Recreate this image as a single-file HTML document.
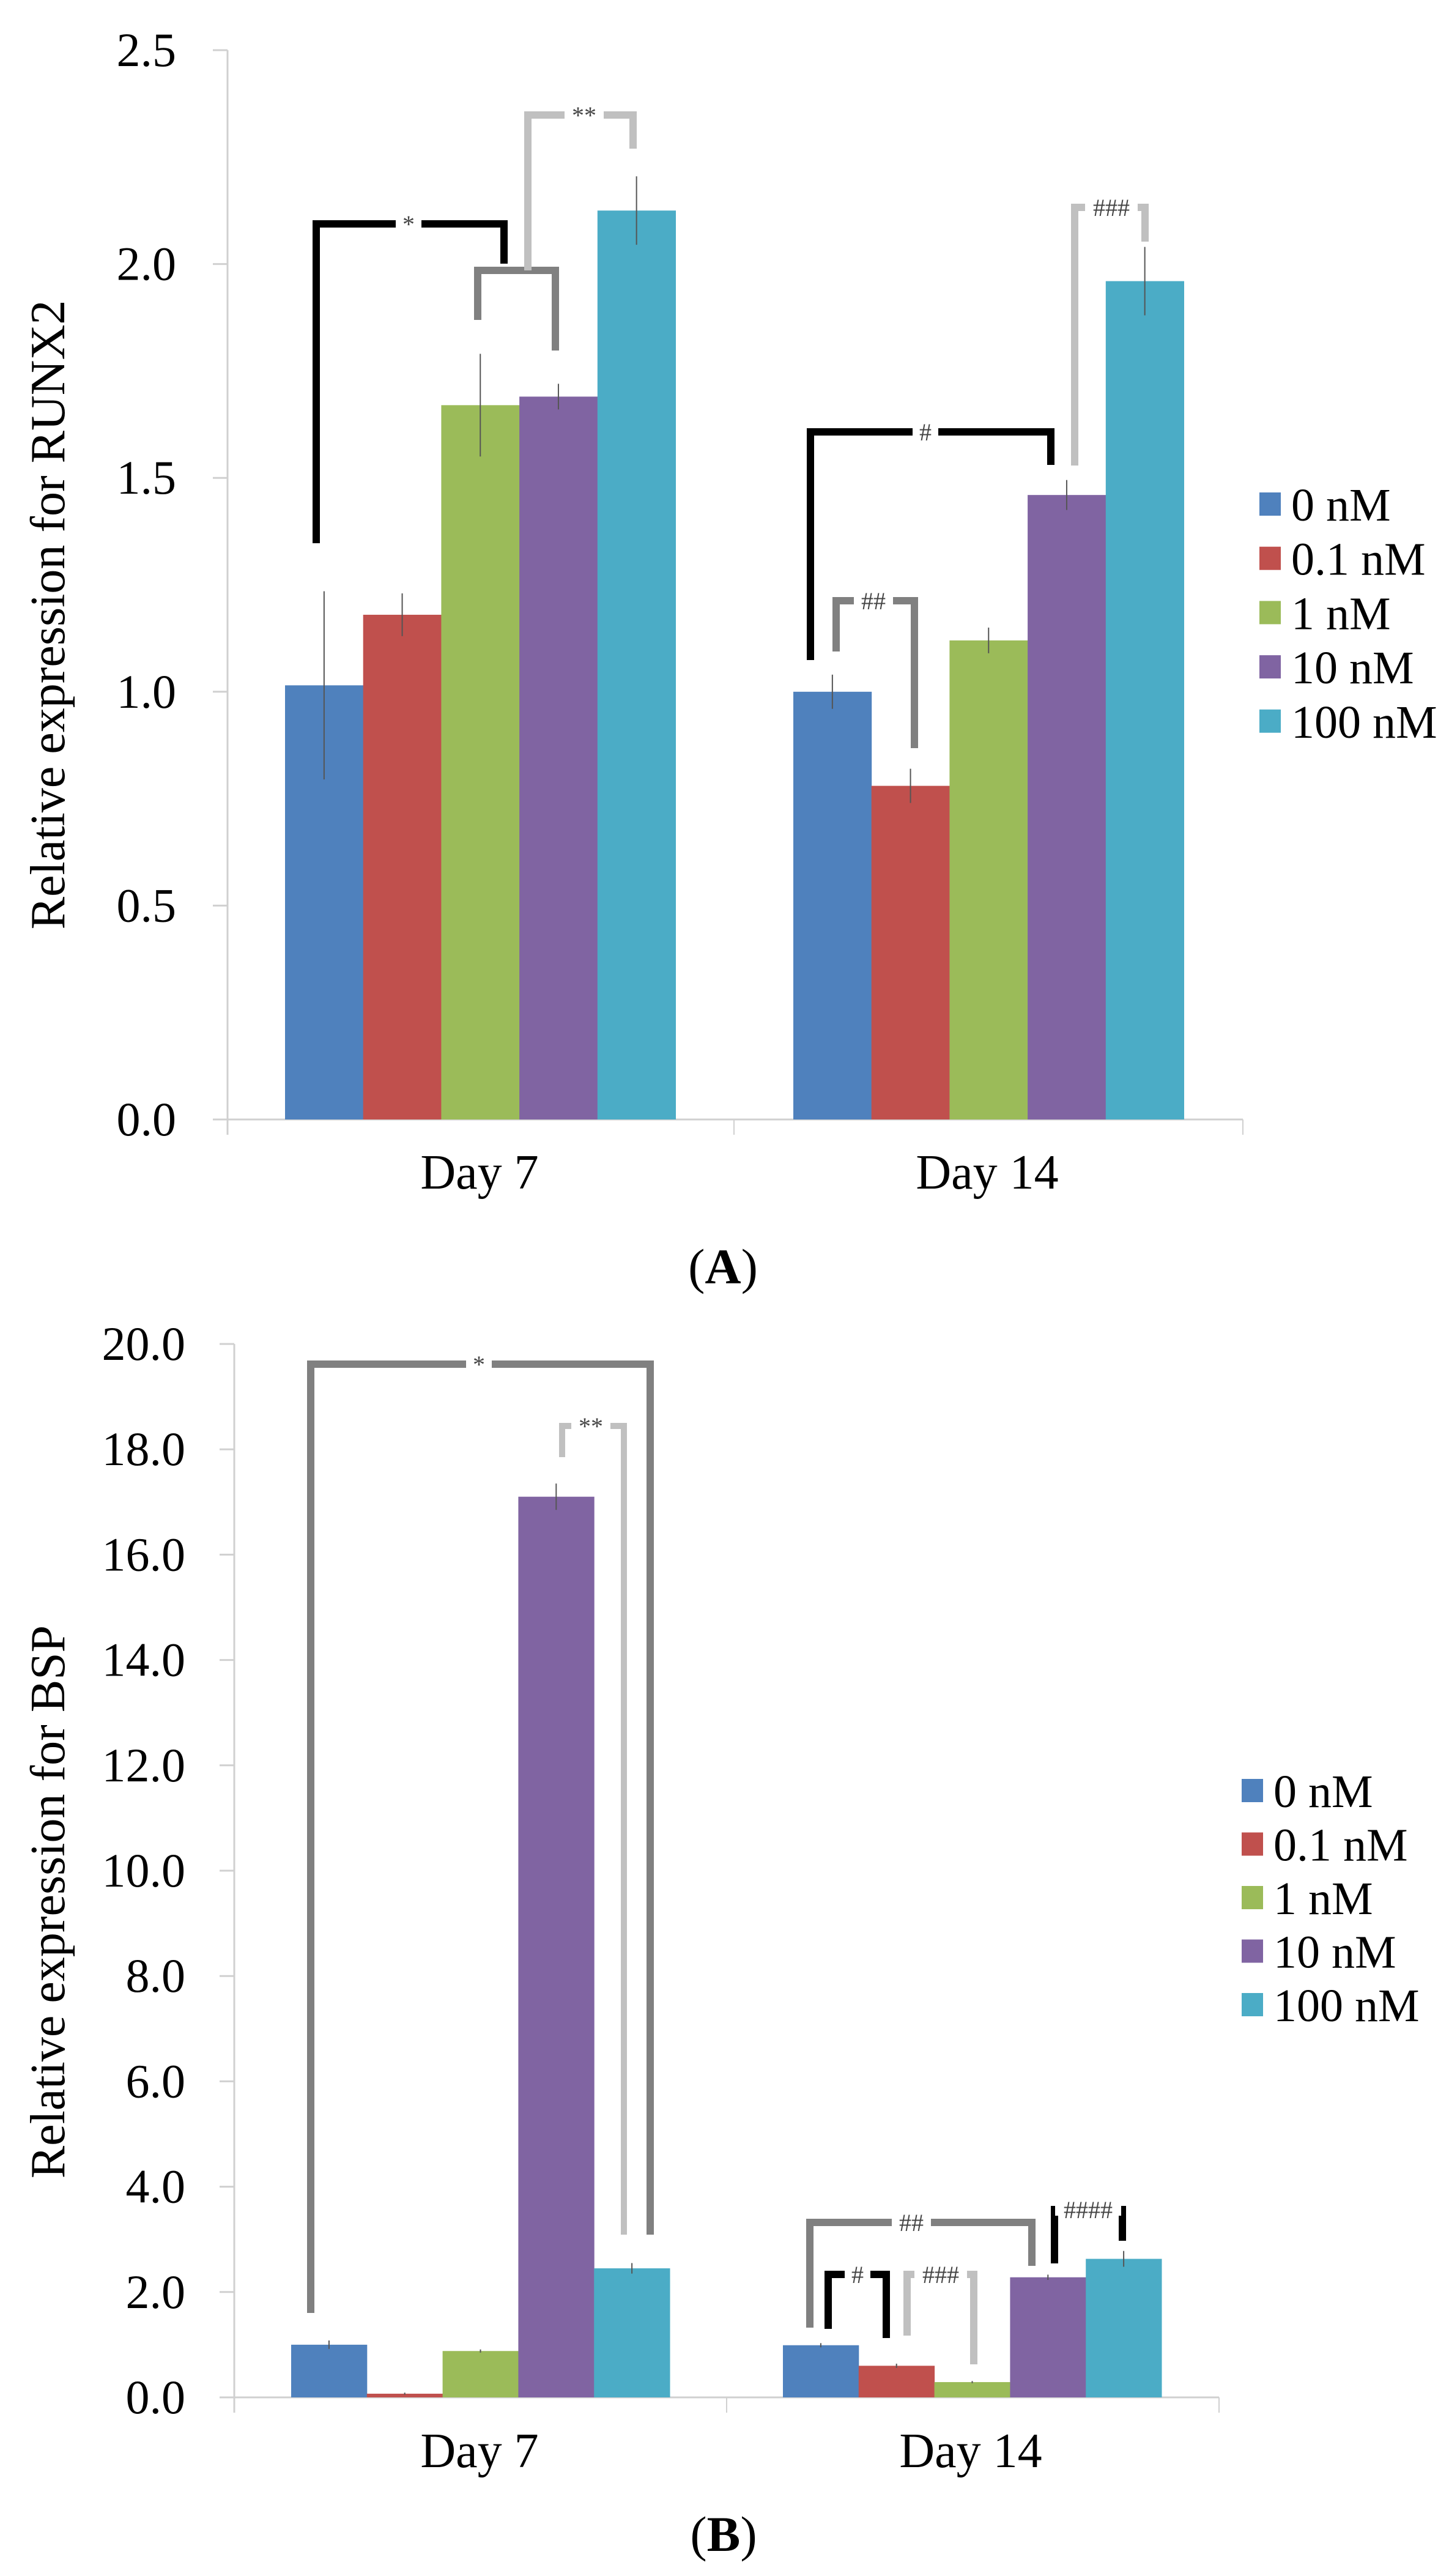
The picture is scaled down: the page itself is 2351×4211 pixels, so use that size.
<!DOCTYPE html>
<html><head><meta charset="utf-8"><style>
html,body{margin:0;padding:0;background:#fff;}
svg{display:block;}
svg text{font-family:"Liberation Serif","DejaVu Serif",serif;}
</style></head><body>
<svg id="fig" width="2351" height="4211" viewBox="0 0 2351 4211" xmlns="http://www.w3.org/2000/svg"></svg>
<script>
// ---------- data ----------
const categories = ["Day 7", "Day 14"];
const seriesNames = ["0 nM", "0.1 nM", "1 nM", "10 nM", "100 nM"];
const seriesColors = ["#4f81bd", "#c0504d", "#9bbb59", "#8064a2", "#4bacc6"];
// Panel A: RUNX2 [series][category]
const runxValues = [[1.015, 1.0], [1.18, 0.78], [1.67, 1.12], [1.69, 1.46], [2.125, 1.96]];
const runxErrors = [[0.22, 0.04], [0.05, 0.04], [0.12, 0.03], [0.03, 0.035], [0.08, 0.08]];
const runxTicks = [0, 0.5, 1.0, 1.5, 2.0, 2.5];
// Panel B: BSP
const bspValues = [[1.0, 0.99], [0.07, 0.6], [0.88, 0.29], [17.1, 2.28], [2.45, 2.63]];
const bspErrors = [[0.08, 0.04], [0.02, 0.04], [0.03, 0.02], [0.25, 0.05], [0.1, 0.15]];
const bspTicks = [0, 2, 4, 6, 8, 10, 12, 14, 16, 18, 20];

const NS = "http://www.w3.org/2000/svg";
const FONT = "Liberation Serif, DejaVu Serif, serif";
const svg = document.getElementById("fig");
function mk(tag, attrs, parent) {
  const e = document.createElementNS(NS, tag);
  for (const k in attrs) e.setAttribute(k, attrs[k]);
  if (tag === "text") e.setAttribute("font-family", FONT);
  (parent || svg).appendChild(e);
  return e;
}

function panel(cfg) {
  const g = mk("g", {});
  
  
  const yS = v => cfg.y0 - (v / cfg.ymax) * (cfg.y0 - cfg.yTop);
  const ya = mk("line", {x1: cfg.ax, y1: cfg.yTop, x2: cfg.ax, y2: cfg.y0 + 25, stroke: "#d0d0d0", "stroke-width": 3}, g);
  
  
  const xa = mk("line", {x1: cfg.ax - 24, y1: cfg.y0, x2: cfg.axEnd, y2: cfg.y0, stroke: "#d0d0d0", "stroke-width": 3}, g);
  
  
  [cfg.axMid, cfg.axEnd].forEach(x => {
    const t = mk("line", {x1: x, y1: cfg.y0, x2: x, y2: cfg.y0 + 25, stroke: "#d0d0d0", "stroke-width": 2}, g);
    
    
  });
  cfg.ticks.forEach(v => {
    const y = yS(v);
    const t = mk("line", {x1: cfg.ax - 24, y1: y, x2: cfg.ax, y2: y, stroke: "#d0d0d0", "stroke-width": 3}, g);
    
    
    const l = mk("text", {x: cfg.tickRight, y: y + 26, "text-anchor": "end", "font-size": 78}, g);
    l.textContent = v.toFixed(1);
    
    
  });
  const tt = mk("text", {x: 0, y: 0, "text-anchor": "middle", "font-size": 80, transform: `translate(${cfg.titleX},${cfg.titleY}) rotate(-90)`}, g);
  tt.textContent = cfg.title;
  
  
  categories.forEach((c, ci) => {
    seriesNames.forEach((s, si) => {
      const v = cfg.values[si][ci], e = cfg.errors[si][ci];
      const x = cfg.groupStart[ci] + si * cfg.bw;
      const r = mk("rect", {x: x, y: yS(v), width: cfg.bw + 0.5, height: cfg.y0 - yS(v), fill: seriesColors[si]}, g);
      
      
      const cx = x + cfg.bw / 2;
      const el = mk("line", {x1: cx, y1: yS(v + e), x2: cx, y2: yS(v - e), stroke: "#555", "stroke-width": 2}, g);
      
      
    });
    const cl = mk("text", {x: cfg.catX[ci], y: cfg.catY, "text-anchor": "middle", "font-size": 80}, g);
    cl.textContent = c;
    
    
  });
  seriesNames.forEach((s, si) => {
    const y = cfg.legY[0] + si * cfg.legStep;
    const sq = mk("rect", {x: cfg.legX, y: y - 19, width: 35, height: 38, fill: seriesColors[si]}, g);
    
    
    const lt = mk("text", {x: cfg.legX + 52, y: y + 27, "font-size": 76}, g);
    lt.textContent = s;
    
    
  });
  cfg.brackets.forEach(b => {
    const [x1, yl, x2, yr, yt, col, lab, lx, sw] = b;
    const p = mk("path", {d: `M${x1},${yl} L${x1},${yt} L${x2},${yt} L${x2},${yr}`, fill: "none", stroke: col, "stroke-width": sw || 12}, g);
    
    
    const w = lab.length * 22 + 20;
    const bg = mk("rect", {x: lx - w / 2, y: yt - 10, width: w, height: 20, fill: "#fff"}, g);
    
    
    const t = mk("text", {x: lx, y: yt + 14, "text-anchor": "middle", "font-size": 40, fill: "#444"}, g);
    t.textContent = lab;
    
    
  });
  const pl = mk("text", {x: cfg.panelX, y: cfg.panelY, "text-anchor": "middle", "font-size": 82}, g);
  pl.innerHTML = '(<tspan font-weight="bold">' + cfg.panelLabel + '</tspan>)';
  
  
}

panel({
  name: "panel-a-runx2", title: "Relative expression for RUNX2",
  values: runxValues, errors: runxErrors, ticks: runxTicks, ymax: 2.5,
  ax: 372, axEnd: 2032, axMid: 1200, y0: 1830, yTop: 82, tickRight: 288,
  titleX: 105, titleY: 1005,
  groupStart: [466, 1297], bw: 127.7, catX: [784, 1614], catY: 1943,
  legX: 2059, legY: [824], legStep: 88.7,
  brackets: [
    [517, 888, 824, 431, 366, "#000", "*", 668],
    [781, 523, 908, 573, 442, "#808080", "", -100],
    [863, 442, 1035, 243, 188, "#c0c0c0", "**", 955],
    [1325, 1079, 1718, 760, 706, "#000", "#", 1513],
    [1367, 1065, 1495, 1223, 982, "#808080", "##", 1428],
    [1757, 761, 1872, 395, 339, "#c0c0c0", "###", 1817]
  ],
  panelX: 1182, panelY: 2098, panelLabel: "A"
});

panel({
  name: "panel-b-bsp", title: "Relative expression for BSP",
  values: bspValues, errors: bspErrors, ticks: bspTicks, ymax: 20,
  ax: 383, axEnd: 1993, axMid: 1188, y0: 3919, yTop: 2197, tickRight: 303,
  titleX: 105, titleY: 3109,
  groupStart: [476, 1280], bw: 123.8, catX: [784, 1587], catY: 4033,
  legX: 2030, legY: [2927], legStep: 87.5,
  brackets: [
    [508, 3781, 1063, 3653, 2230, "#808080", "*", 783],
    [919, 2382, 1020, 3653, 2331, "#c0c0c0", "**", 966, 10],
    [1324, 3805, 1687, 3704, 3633, "#808080", "##", 1490],
    [1354, 3807, 1449, 3822, 3718, "#000", "#", 1402],
    [1483, 3818, 1592, 3865, 3718, "#c0c0c0", "###", 1538],
    [1724, 3700, 1835, 3663, 3612, "#000", "####", 1779]
  ],
  panelX: 1183, panelY: 4170, panelLabel: "B"
});
</script>
</body></html>
